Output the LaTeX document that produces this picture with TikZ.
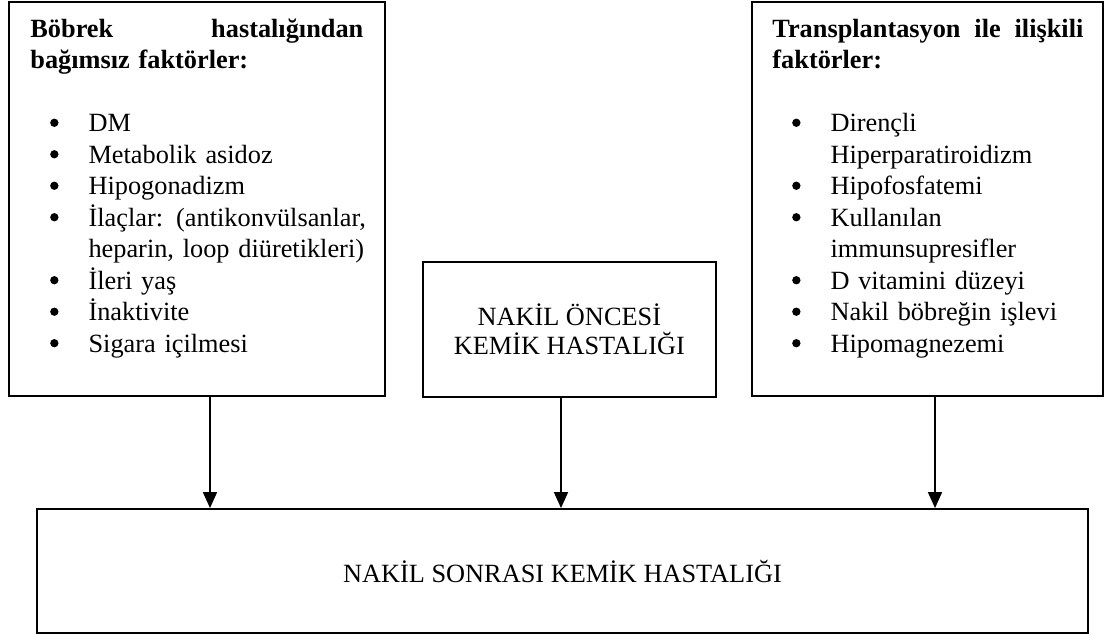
\documentclass[tikz,border=0pt]{standalone}
\usepackage{fontspec}
\setmainfont{Liberation Serif}
\usetikzlibrary{arrows.meta,positioning}

\newcommand{\bdot}{\tikz[baseline=-4.2pt]\fill (0,0) circle (1.9pt);}
\newcommand{\bul}{\makebox[26.5pt][l]{\hspace{9pt}\bdot}}
\newcommand{\cont}{\hspace*{26.5pt}}

\tikzset{
  kutu/.style={draw=black,line width=0.9pt,inner sep=0pt},
  liste/.style={inner sep=0pt,anchor=base west,align=left,text width=200pt,
    font=\fontsize{12}{14.36}\selectfont},
  ok/.style={-{Triangle[width=6.4pt,length=7.3pt]},line width=0.7pt}
}

\begin{document}
\begin{tikzpicture}[x=0.456pt,y=-0.456pt]
\useasboundingbox (0,0) rectangle (1106,634);
% kutular
\node (risk) [kutu,minimum width=171.5pt,minimum height=179.7pt] at (197,199) {};
\node (tx) [kutu,minimum width=160.1pt,minimum height=179.7pt] at (927.5,199) {};
\node (oncesi) [kutu,minimum width=133.6pt,minimum height=61.6pt,align=center,
  font=\fontsize{12}{13}\selectfont] at (569.3,329.5) {NAKİL ÖNCESİ\\KEMİK HASTALIĞI};
\node (sonrasi) [kutu,minimum width=479.3pt,minimum height=56.5pt,
  font=\fontsize{12}{14}\selectfont] at (562.5,571) {NAKİL SONRASI KEMİK HASTALIĞI};
%
\node (risktxt) [liste] at (30,37.5) {%
  \makebox[151.8pt]{\textbf{Böbrek\hfill hastalığından}}\\
  \textbf{bağımsız faktörler:}\\
  \mbox{}\\
  \bul DM\\
  \bul Metabolik asidoz\\
  \bul Hipogonadizm\\
  \bul İlaçlar: (antikonvülsanlar,\\
  \cont heparin, loop diüretikleri)\\
  \bul İleri yaş\\
  \bul İnaktivite\\
  \bul Sigara içilmesi};
\node (txtxt) [liste] at (772,37.5) {%
  \makebox[141.8pt]{\textbf{Transplantasyon\hfill ile\hfill ilişkili}}\\
  \textbf{faktörler:}\\
  \mbox{}\\
  \bul Dirençli\\
  \cont Hiperparatiroidizm\\
  \bul Hipofosfatemi\\
  \bul Kullanılan\\
  \cont immunsupresifler\\
  \bul D vitamini düzeyi\\
  \bul Nakil böbreğin işlevi\\
  \bul Hipomagnezemi};
% oklar
\coordinate (a1) at (210,0);
\coordinate (a2) at (561,0);
\coordinate (a3) at (935,0);
\draw[ok] (risk.south -| a1) -- (sonrasi.north -| a1);
\draw[ok] (oncesi.south -| a2) -- (sonrasi.north -| a2);
\draw[ok] (tx.south -| a3) -- (sonrasi.north -| a3);
\end{tikzpicture}
\end{document}
